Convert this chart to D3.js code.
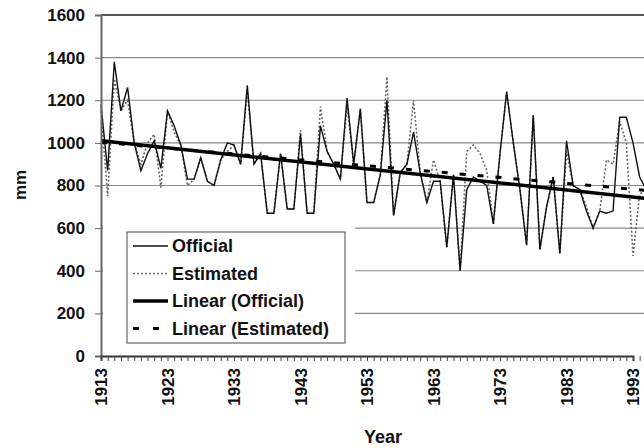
<!DOCTYPE html>
<html>
<head>
<meta charset="utf-8">
<script src="https://cdn.jsdelivr.net/npm/d3@7"></script>
<style>
  body { margin: 0; background: #fff; }
  text { font-family: "Liberation Sans", Arial, sans-serif; fill: #111; }
</style>
</head>
<body>
<div id="chart"></div>
<script>

// years shown on the category axis
var years = d3.range(1913, 1996);

// annual rainfall, official record (mm)
var official = [
  1180, 870, 1380, 1150, 1260, 1000, 870, 950, 1010, 880,
  1150, 1080, 990, 830, 830, 930, 820, 800, 920, 1000,
  990, 900, 1270, 900, 950, 670, 670, 950, 690, 690,
  1040, 670, 670, 1080, 960, 900, 830, 1210, 900, 1160,
  720, 720, 850, 1200, 660, 860, 900, 1050, 860, 720,
  820, 820, 510, 850, 400, 780, 840, 820, 800, 620,
  950, 1240, 1000, 780, 520, 1130, 500, 700, 840, 480,
  1010, 800, 780, 680, 600, 680, 670, 680, 1120, 1120,
  1000, 840, 780
];

// annual rainfall, estimated record (mm)
var estimated = [
  1150, 750, 1300, 1150, 1200, 1000, 900, 1000, 1040, 790,
  1150, 1050, 990, 800, 830, 930, 820, 800, 920, 960,
  990, 900, 1250, 900, 950, 670, 670, 950, 690, 690,
  1060, 670, 670, 1170, 960, 900, 830, 1180, 900, 1160,
  720, 720, 850, 1310, 660, 860, 900, 1200, 860, 720,
  920, 820, 510, 850, 400, 960, 990, 950, 870, 620,
  950, 1240, 1000, 780, 520, 1130, 500, 700, 840, 480,
  960, 800, 780, 700, 600, 680, 920, 900, 1100, 1000,
  470, 760, 780
];

// linear trend end points (first and last year)
var trendYears = [1913, 1995];
var trendOfficial = [1010, 739];
var trendEstimated = [1003, 777];

var yTicks = [0, 200, 400, 600, 800, 1000, 1200, 1400, 1600];
var yearLabels = [1913, 1923, 1933, 1943, 1953, 1963, 1973, 1983, 1993];

var legendItems = ["Official", "Estimated", "Linear (Official)", "Linear (Estimated)"];

var width = 644, height = 448;

var svg = d3.select("#chart")
  .append("svg")
    .attr("width", width)
    .attr("height", height);

var x = d3.scaleLinear().domain([1913, 1993]).range([101, 633]);
var y = d3.scaleLinear().domain([0, 1600]).range([356, 15]);

// horizontal gridlines
svg.append("g")
  .selectAll("line")
  .data(yTicks.filter(function(d) { return d > 0; }))
  .enter().append("line")
    .attr("x1", 101).attr("x2", width)
    .attr("y1", function(d) { return y(d); })
    .attr("y2", function(d) { return y(d); })
    .attr("stroke", function(d) { return d == 1600 ? "#555" : "#8a8a8a"; })
    .attr("stroke-width", function(d) { return d == 1600 ? 1.8 : 1.2; });

// series
var line = function(vals) {
  return d3.line()
    .x(function(d, i) { return x(years[i]); })
    .y(function(d) { return y(d); })(vals);
};

svg.append("path")
  .attr("d", line(estimated))
  .attr("fill", "none")
  .attr("stroke", "#666")
  .attr("stroke-width", 1.6)
  .attr("stroke-dasharray", "2,2");

svg.append("path")
  .attr("d", line(official))
  .attr("fill", "none")
  .attr("stroke", "#111")
  .attr("stroke-width", 1.4);

// trend lines
var trend = d3.line()
  .x(function(d, i) { return x(trendYears[i]); })
  .y(function(d) { return y(d); });

svg.append("path")
  .attr("d", trend(trendOfficial))
  .attr("fill", "none")
  .attr("stroke", "#000")
  .attr("stroke-width", 3.5);

svg.append("path")
  .attr("d", trend(trendEstimated))
  .attr("fill", "none")
  .attr("stroke", "#000")
  .attr("stroke-width", 3)
  .attr("stroke-dasharray", "6,12");

// y axis
var yAxis = svg.append("g")
  .attr("transform", "translate(101,0)")
  .call(d3.axisLeft(y).tickValues(yTicks).tickFormat(d3.format("d")).tickSize(6).tickPadding(10));
yAxis.select(".domain").attr("stroke", "#666").attr("stroke-width", 2);
yAxis.selectAll(".tick line").attr("stroke", "#666");
yAxis.selectAll("text")
  .style("font-size", "17px")
  .style("font-weight", "bold")
  .attr("fill", "#111");

// x axis: minor tick every year, labels every ten years
var xAxis = svg.append("g")
  .attr("transform", "translate(0,356)")
  .call(d3.axisBottom(x)
    .tickValues(years.filter(function(d) { return d <= 1994; }))
    .tickSize(5)
    .tickFormat(function(d) { return yearLabels.indexOf(d) >= 0 ? d : ""; }));
xAxis.select(".domain").attr("stroke", "#333").attr("stroke-width", 2);
xAxis.selectAll(".tick line").attr("stroke", "#444");
xAxis.selectAll("text")
  .style("font-size", "17px")
  .style("font-weight", "bold")
  .attr("fill", "#111")
  .attr("text-anchor", "end")
  .attr("transform", "rotate(-90)")
  .attr("x", -12)
  .attr("y", 0)
  .attr("dy", "0.35em");

// axis titles
svg.append("text")
  .attr("x", 383).attr("y", 443)
  .attr("text-anchor", "middle")
  .style("font-size", "18px")
  .style("font-weight", "bold")
  .text("Year");

svg.append("text")
  .attr("transform", "translate(26,185) rotate(-90)")
  .attr("text-anchor", "middle")
  .style("font-size", "17px")
  .style("font-weight", "bold")
  .text("mm");

// legend (white area hides the gridlines behind it)
svg.append("rect")
  .attr("x", 103).attr("y", 218)
  .attr("width", 252).attr("height", 134)
  .attr("fill", "#fff");

svg.append("rect")
  .attr("x", 127).attr("y", 232)
  .attr("width", 218).attr("height", 111)
  .attr("fill", "#fff")
  .attr("stroke", "#666")
  .attr("stroke-width", 1.2);

var legendStyle = [
  {stroke: "#111", width: 1.5, dash: null},
  {stroke: "#666", width: 1.6, dash: "2,2"},
  {stroke: "#000", width: 3.5, dash: null},
  {stroke: "#000", width: 3, dash: "6,14"}
];

var legend = svg.selectAll(".legend")
  .data(legendItems)
  .enter().append("g")
    .attr("class", "legend")
    .attr("transform", function(d, i) { return "translate(0," + (246 + i * 27.5) + ")"; });

legend.append("line")
  .attr("x1", 133).attr("x2", 168)
  .attr("stroke", function(d, i) { return legendStyle[i].stroke; })
  .attr("stroke-width", function(d, i) { return legendStyle[i].width; })
  .attr("stroke-dasharray", function(d, i) { return legendStyle[i].dash; });

legend.append("text")
  .attr("x", 172)
  .attr("dy", "0.35em")
  .style("font-size", "18px")
  .style("font-weight", "bold")
  .text(function(d) { return d; });

</script>
</body>
</html>
